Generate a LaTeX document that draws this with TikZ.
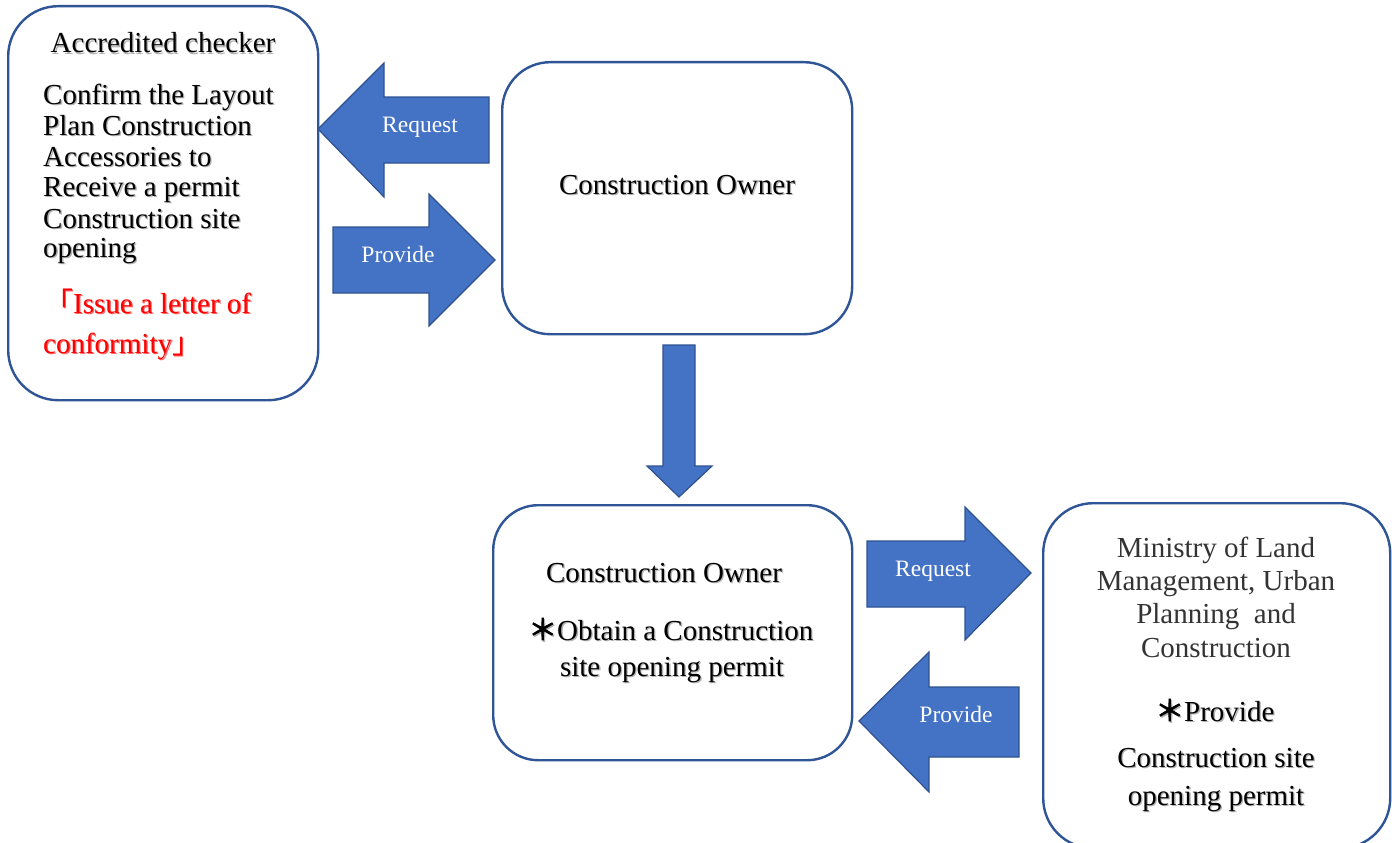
\documentclass[tikz,border=0pt]{standalone}
\usepackage{fontspec}
\setmainfont{Liberation Serif}
\newfontfamily\cjk{Noto Sans CJK SC}
\newfontfamily\cjkb[FakeBold=2.5]{Noto Sans CJK SC}
\definecolor{boxc}{HTML}{2F5597}
\definecolor{arrowfill}{HTML}{4472C4}
\definecolor{arrowdraw}{HTML}{2F528F}
\definecolor{redtxt}{HTML}{FF0000}
\definecolor{graytxt}{HTML}{333333}
\tikzset{
  box/.style={draw=boxc, line width=2.4pt, fill=white, inner sep=0pt, anchor=north west},
  blk/.style={fill=arrowfill, draw=arrowdraw, line width=1.2pt, line join=miter},
  lbl/.style={text=white, font=\fontsize{23.5}{26}\selectfont, inner sep=0pt, anchor=base},
  txt/.style={font=\fontsize{29}{30}\selectfont, inner sep=0pt, anchor=base},
  txtl/.style={txt, anchor=base west},
  shadow/.style={text=black!30, xshift=1.3pt, yshift=-1.3pt},
}
% text with a soft shadow: #1 style, #2 name, #3 position, #4 text
\newcommand\shtxt[4]{%
  \node[#1, shadow] at #3 {#4};
  \node[#1] (#2) at #3 {#4};}
\begin{document}
\begin{tikzpicture}[x=1pt, y=-1pt]
\useasboundingbox (0,0) rectangle (1392,843);
\clip (0,0) rectangle (1392,843);
\fill[white] (0,0) rectangle (1392,843);

% boxes
\node[box, rounded corners=50pt, minimum width=310pt, minimum height=394pt] (A) at (7,5) {};
\node[box, rounded corners=48pt, minimum width=350pt, minimum height=272pt] (B) at (501,61) {};
\node[box, rounded corners=45pt, minimum width=359pt, minimum height=255pt] (C) at (492,504) {};
\node[box, rounded corners=50pt, minimum width=347pt, minimum height=345pt] (D) at (1042,502) {};

% block arrows
\draw[blk] (318,129) -- (384,63) -- (384,97) -- (489,97) -- (489,163) -- (384,163) -- (384,197) -- cycle;
\draw[blk] (495,260) -- (429,194) -- (429,227) -- (333,227) -- (333,293) -- (429,293) -- (429,326) -- cycle;
\draw[blk] (679,497) -- (647,466) -- (663,466) -- (663,345) -- (695,345) -- (695,466) -- (712,466) -- cycle;
\draw[blk] (1031,573) -- (965,507) -- (965,541) -- (867,541) -- (867,607) -- (965,607) -- (965,640) -- cycle;
\draw[blk] (859,721) -- (929,652) -- (929,687) -- (1019,687) -- (1019,757) -- (929,757) -- (929,792) -- cycle;

% arrow labels
\node[lbl] (l1) at (420,132) {Request};
\node[lbl] (l2) at (398,262) {Provide};
\node[lbl] (l3) at (933,576) {Request};
\node[lbl] (l4) at (956,722) {Provide};

% box A text
\shtxt{txt}{a0}{(163,53)}{Accredited checker}
\shtxt{txtl}{a1}{(43,104)}{Confirm the Layout}
\shtxt{txtl}{a2}{(43,135)}{Plan Construction}
\shtxt{txtl}{a3}{(43,166)}{Accessories to}
\shtxt{txtl}{a4}{(43,196)}{Receive a permit}
\shtxt{txtl}{a5}{(43,228)}{Construction site}
\shtxt{txtl}{a6}{(43,257)}{opening}
\node[txtl, text=redtxt!60!white, xshift=1.2pt, yshift=-1.2pt] at (44,313) {{\cjk 「}Issue a letter of};
\node[txtl, text=redtxt] (a7) at (44,313) {{\cjk 「}Issue a letter of};
\node[txtl, text=redtxt!60!white, xshift=1.2pt, yshift=-1.2pt] at (43,353) {conformity{\cjk 」}};
\node[txtl, text=redtxt] (a8) at (43,353) {conformity{\cjk 」}};

% box B text
\shtxt{txt}{b0}{(677,194)}{Construction Owner}

% box C text
\shtxt{txt}{c0}{(664,582)}{Construction Owner}
\shtxt{txtl}{c1}{(528,640)}{{\cjkb ＊}Obtain a Construction}
\shtxt{txt}{c2}{(672,676)}{site opening permit}

% box D text
\node[txt, text=graytxt] (d0) at (1216,557) {Ministry of Land};
\node[txt, text=graytxt] (d1) at (1216,590) {Management, Urban};
\node[txt, text=graytxt] (d2) at (1216,623) {Planning\ \ and};
\node[txt, text=graytxt] (d3) at (1216,657) {Construction};
\shtxt{txtl}{d4}{(1155,721)}{{\cjkb ＊}Provide}
\shtxt{txt}{d5}{(1216,767)}{Construction site}
\shtxt{txt}{d6}{(1216,805)}{opening permit}
\end{tikzpicture}
\end{document}
